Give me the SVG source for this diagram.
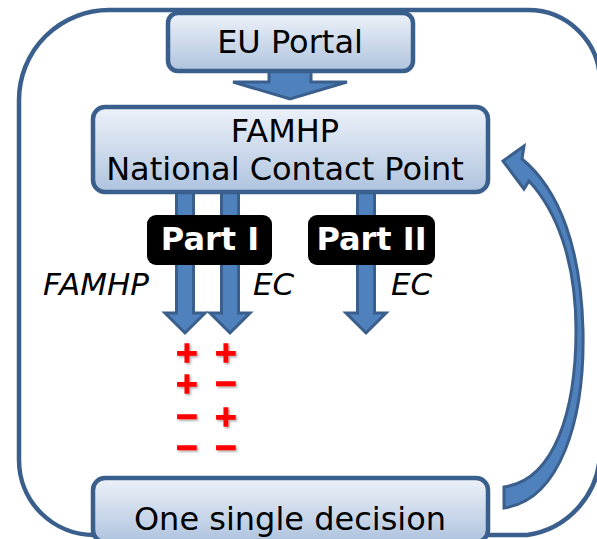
<svg xmlns="http://www.w3.org/2000/svg" width="597" height="539" viewBox="0 0 597 539">
<defs>
<linearGradient id="boxfill" x1="0" y1="0" x2="0" y2="1">
<stop offset="0" stop-color="#EDF2F9"/>
<stop offset="1" stop-color="#AFC3DE"/>
</linearGradient>
<filter id="shadow" x="-30%" y="-30%" width="160%" height="160%">
<feDropShadow dx="1.5" dy="1.5" stdDeviation="1" flood-color="#000" flood-opacity="0.35"/>
</filter>
</defs>
<style>
.box{fill:url(#boxfill);stroke:#3B5F8C;stroke-width:4.5}
.lbl{font-family:"DejaVu Sans",Verdana,sans-serif;font-size:32px;fill:#000;text-anchor:middle}
.arr{fill:#4F81BD;stroke:#3B5F8C;stroke-width:3;stroke-linejoin:miter}
.tag{fill:#000}
.tagt{font-family:"DejaVu Sans",Verdana,sans-serif;font-weight:bold;font-size:32px;fill:#fff;text-anchor:middle}
.it{font-family:"DejaVu Sans",Verdana,sans-serif;font-style:italic;font-size:31px;fill:#000}
.sign{font-family:"DejaVu Sans",Verdana,sans-serif;font-weight:bold;font-size:29px;fill:#FF0000;stroke:#FF0000;stroke-width:1.5;text-anchor:middle;filter:url(#shadow)}
</style>
<g id="frame">
<path d="M 110,10 H 528 A 72 72 0 0 1 600 82 V 450 A 85 85 0 0 1 527 535 H 94 A 75 75 0 0 1 19 460 V 100 A 90 90 0 0 1 110 10 Z" fill="none" stroke="#3B5F8C" stroke-width="4.5"/>
</g>
<g id="connectors">
<polygon class="arr" points="269,68 311,68 311,82 347,82 290,99 233,82 269,82"/>
<polygon class="arr" points="176.5,190 193.5,190 193.5,313 205,313 185,333 165,313 176.5,313"/>
<polygon class="arr" points="221.5,190 238.5,190 238.5,313 250,313 230,333 210,313 221.5,313"/>
<polygon class="arr" points="357.5,190 374.5,190 374.5,313 386,313 366,333 346,313 357.5,313"/>
<path class="arr" d="M 503,161 L 524,146 L 522,159 C 560,190 581,250 583,330 C 585,420 560,500 504,508 L 504,487 C 555,480 576,410 576,330 C 576,260 556,210 529,181 L 524,189 Z"/>
</g>
<g id="eu-portal">
<rect class="box" x="168" y="13" width="245" height="58" rx="10"/>
<text class="lbl" x="290" y="53">EU Portal</text>
</g>
<g id="famhp">
<rect class="box" x="93" y="107" width="395" height="85" rx="12"/>
<text class="lbl" x="285" y="142">FAMHP</text>
<text class="lbl" x="285" y="180">National Contact Point</text>
</g>
<g id="part1">
<rect class="tag" x="147" y="215" width="125" height="50" rx="9"/>
<text class="tagt" x="210" y="250">Part I</text>
</g>
<g id="part2">
<rect class="tag" x="308" y="215" width="127" height="50" rx="9"/>
<text class="tagt" x="371.5" y="250">Part II</text>
</g>
<g id="labels">
<text class="it" x="149" y="295" text-anchor="end">FAMHP</text>
<text class="it" x="253" y="295">EC</text>
<text class="it" x="391" y="295">EC</text>
</g>
<g id="results">
<text class="sign"><tspan x="187" y="362">+</tspan><tspan x="226" y="362">+</tspan><tspan x="187" y="393">+</tspan><tspan x="226" y="393">−</tspan><tspan x="187" y="426">−</tspan><tspan x="226" y="426">+</tspan><tspan x="187" y="457">−</tspan><tspan x="226" y="457">−</tspan></text>
</g>
<g id="decision">
<rect class="box" x="93" y="478" width="395" height="64" rx="12"/>
<text class="lbl" x="290" y="530">One single decision</text>
</g>
</svg>
